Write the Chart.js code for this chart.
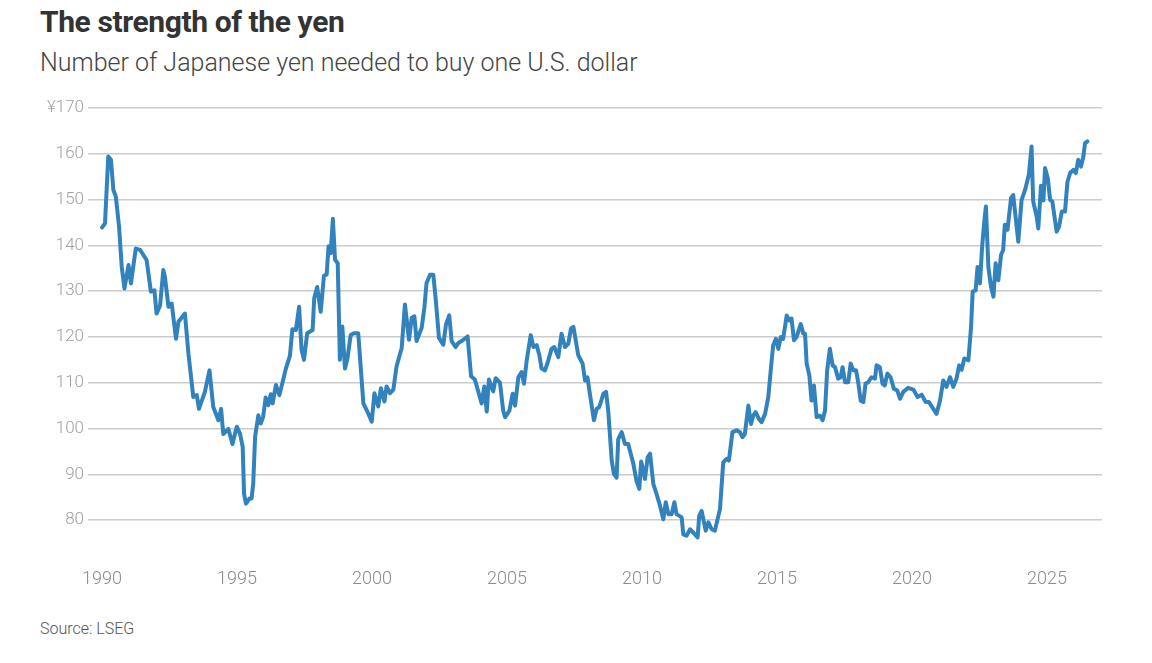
<!DOCTYPE html>
<html>
<head>
<meta charset="utf-8">
<script src="https://cdn.jsdelivr.net/npm/chart.js@4"></script>
<style>
  body { margin: 0; background: #fff; width: 1152px; height: 663px; overflow: hidden; position: relative; font-family: Roboto, "Open Sans", sans-serif; }
  #chart { position: absolute; left: 0; top: 0; }
  .title { position: absolute; left: 40px; top: 4px; font-size: 30px; font-weight: 700; color: #333; letter-spacing: -0.4px; }
  .subtitle { position: absolute; left: 40px; top: 48px; font-size: 25px; font-weight: 300; color: #444; }
  .source { position: absolute; left: 40px; top: 619px; font-size: 16px; font-weight: 300; color: #555; }
</style>
</head>
<body>
<div class="title">The strength of the yen</div>
<div class="subtitle">Number of Japanese yen needed to buy one U.S. dollar</div>
<div class="source">Source: LSEG</div>
<canvas id="chart" width="1152" height="663"></canvas>
<script>
// values (year as decimal, yen per dollar)
const years = [
  1990.00, 1990.11, 1990.23, 1990.33, 1990.42, 1990.51, 1990.63, 1990.73, 1990.83, 1990.98,
  1991.07, 1991.25, 1991.41, 1991.65, 1991.81, 1991.94, 1992.02, 1992.15, 1992.27, 1992.33,
  1992.46, 1992.58, 1992.74, 1992.83, 1993.07, 1993.20, 1993.38, 1993.51, 1993.59, 1993.81,
  1993.98, 1994.12, 1994.31, 1994.41, 1994.49, 1994.68, 1994.83, 1994.99, 1995.11, 1995.21,
  1995.26, 1995.33, 1995.46, 1995.54, 1995.60, 1995.67, 1995.79, 1995.88, 1995.97, 1996.06,
  1996.16, 1996.25, 1996.32, 1996.44, 1996.57, 1996.72, 1996.81, 1996.96, 1997.05, 1997.18,
  1997.30, 1997.39, 1997.48, 1997.60, 1997.80, 1997.86, 1997.97, 1998.10, 1998.22, 1998.32,
  1998.39, 1998.47, 1998.55, 1998.63, 1998.73, 1998.81, 1998.90, 1999.00, 1999.09, 1999.21,
  1999.33, 1999.49, 1999.68, 1999.86, 1999.99, 2000.09, 2000.23, 2000.33, 2000.46, 2000.54,
  2000.67, 2000.79, 2000.91, 2001.10, 2001.22, 2001.37, 2001.47, 2001.57, 2001.65, 2001.84,
  2001.94, 2002.02, 2002.15, 2002.27, 2002.36, 2002.48, 2002.64, 2002.74, 2002.86, 2002.95,
  2003.10, 2003.20, 2003.32, 2003.54, 2003.67, 2003.81, 2004.06, 2004.16, 2004.25, 2004.33,
  2004.49, 2004.58, 2004.74, 2004.86, 2004.93, 2005.09, 2005.21, 2005.30, 2005.42, 2005.54,
  2005.63, 2005.73, 2005.88, 2005.98, 2006.10, 2006.20, 2006.28, 2006.41, 2006.53, 2006.65,
  2006.75, 2006.90, 2007.02, 2007.15, 2007.27, 2007.37, 2007.46, 2007.64, 2007.80, 2007.89,
  2007.98, 2008.07, 2008.22, 2008.32, 2008.42, 2008.57, 2008.67, 2008.75, 2008.88, 2008.96,
  2009.06, 2009.12, 2009.25, 2009.37, 2009.49, 2009.68, 2009.80, 2009.90, 2009.97, 2010.11,
  2010.21, 2010.30, 2010.42, 2010.54, 2010.67, 2010.79, 2010.88, 2010.98, 2011.10, 2011.20,
  2011.28, 2011.47, 2011.53, 2011.65, 2011.78, 2011.90, 2012.06, 2012.12, 2012.21, 2012.36,
  2012.46, 2012.58, 2012.70, 2012.89, 2013.01, 2013.14, 2013.22, 2013.35, 2013.51, 2013.63,
  2013.72, 2013.81, 2013.94, 2014.04, 2014.12, 2014.21, 2014.33, 2014.43, 2014.56, 2014.68,
  2014.78, 2014.86, 2014.96, 2015.05, 2015.14, 2015.23, 2015.36, 2015.46, 2015.54, 2015.63,
  2015.73, 2015.88, 2015.98, 2016.04, 2016.10, 2016.20, 2016.28, 2016.37, 2016.47, 2016.59,
  2016.69, 2016.78, 2016.86, 2016.96, 2017.06, 2017.15, 2017.27, 2017.36, 2017.43, 2017.52,
  2017.64, 2017.73, 2017.83, 2017.93, 2018.01, 2018.10, 2018.20, 2018.28, 2018.38, 2018.50,
  2018.63, 2018.69, 2018.81, 2018.91, 2018.99, 2019.09, 2019.21, 2019.33, 2019.46, 2019.56,
  2019.68, 2019.86, 2020.05, 2020.21, 2020.36, 2020.51, 2020.63, 2020.79, 2020.91, 2021.04,
  2021.16, 2021.28, 2021.41, 2021.53, 2021.65, 2021.75, 2021.84, 2021.94, 2022.09, 2022.19,
  2022.25, 2022.36, 2022.43, 2022.52, 2022.60, 2022.68, 2022.74, 2022.83, 2022.93, 2023.02,
  2023.10, 2023.20, 2023.30, 2023.38, 2023.44, 2023.54, 2023.67, 2023.75, 2023.94, 2024.06,
  2024.19, 2024.33, 2024.43, 2024.49, 2024.62, 2024.68, 2024.78, 2024.87, 2024.93, 2025.03,
  2025.12, 2025.20, 2025.30, 2025.36, 2025.45, 2025.55, 2025.67, 2025.76, 2025.86, 2025.98,
  2026.07, 2026.16, 2026.26, 2026.35, 2026.41, 2026.50
];
const yen = [
  143.9, 144.8, 159.4, 158.7, 152.1, 150.7, 144.1, 135.3, 130.6, 135.7,
  131.7, 139.3, 139.0, 136.8, 129.9, 130.2, 125.1, 126.9, 134.6, 133.1,
  126.6, 127.3, 119.6, 123.3, 125.1, 116.4, 106.9, 107.3, 104.3, 108.0,
  112.7, 104.7, 101.8, 104.3, 98.8, 99.9, 96.6, 100.4, 98.9, 96.0,
  85.8, 83.6, 84.7, 84.7, 88.0, 98.2, 102.9, 101.1, 102.6, 106.8,
  105.1, 107.5, 105.5, 109.5, 107.3, 110.9, 113.1, 115.9, 121.7, 121.5,
  126.6, 117.2, 115.0, 120.8, 121.5, 128.5, 130.9, 125.5, 133.4, 133.6,
  139.8, 138.3, 145.8, 136.9, 136.1, 115.0, 122.3, 113.1, 115.3, 120.4,
  120.8, 120.8, 105.5, 103.3, 101.5, 107.7, 104.8, 108.8, 105.9, 109.2,
  107.7, 108.5, 113.6, 117.6, 127.1, 119.4, 124.2, 124.5, 119.1, 122.0,
  126.4, 131.8, 133.6, 133.6, 128.2, 119.8, 118.3, 122.7, 124.7, 119.1,
  117.8, 118.7, 119.1, 120.1, 111.4, 110.7, 105.5, 109.2, 103.7, 110.7,
  108.1, 111.0, 110.0, 103.9, 102.5, 103.9, 107.6, 105.0, 111.2, 112.3,
  109.8, 114.9, 120.4, 117.8, 118.2, 116.0, 113.1, 112.7, 114.9, 117.4,
  117.8, 115.6, 120.7, 117.8, 118.5, 121.8, 122.2, 116.0, 114.2, 110.5,
  111.2, 107.6, 101.8, 104.3, 104.7, 107.6, 108.0, 103.9, 93.0, 90.1,
  89.3, 97.7, 99.2, 96.6, 96.6, 92.3, 88.5, 86.8, 92.8, 89.0,
  93.7, 94.5, 87.9, 85.7, 83.1, 80.2, 83.9, 81.3, 81.3, 83.9,
  81.3, 80.6, 76.9, 76.6, 78.0, 77.3, 76.2, 80.9, 82.0, 77.7,
  79.5, 78.0, 77.7, 82.4, 92.6, 93.4, 93.0, 99.2, 99.6, 99.2,
  98.1, 98.8, 105.0, 101.0, 102.8, 103.6, 102.1, 101.4, 103.2, 106.9,
  113.4, 118.2, 119.6, 117.4, 120.0, 119.6, 124.7, 123.6, 124.0, 119.3,
  120.0, 122.8, 120.7, 120.7, 114.2, 111.6, 106.1, 109.4, 102.5, 102.8,
  101.8, 103.9, 112.7, 117.4, 113.8, 113.4, 110.9, 111.2, 113.4, 110.1,
  110.1, 114.2, 112.7, 112.7, 110.1, 106.1, 105.8, 109.8, 110.1, 111.2,
  110.9, 113.8, 113.4, 109.8, 109.4, 112.0, 111.2, 108.7, 108.3, 106.5,
  108.0, 108.9, 108.5, 106.9, 107.4, 105.8, 105.8, 104.3, 103.2, 106.1,
  110.5, 109.1, 111.2, 109.1, 110.9, 113.8, 112.8, 115.3, 114.9, 122.2,
  129.9, 130.2, 135.3, 131.7, 139.7, 145.2, 148.5, 135.3, 130.9, 128.8,
  136.1, 132.4, 137.9, 139.0, 144.5, 143.4, 150.3, 151.0, 140.8, 149.9,
  152.1, 155.4, 161.6, 149.6, 146.3, 143.7, 153.0, 149.8, 156.9, 154.7,
  149.9, 149.6, 145.5, 143.0, 144.1, 147.4, 147.4, 153.9, 155.8, 156.5,
  155.8, 158.7, 157.2, 159.4, 162.3, 162.7
];
const xTicks = [1990, 1995, 2000, 2005, 2010, 2015, 2020, 2025];
const yTicks = [80, 90, 100, 110, 120, 130, 140, 150, 160, 170];

const points = years.map((x, i) => ({ x: x, y: yen[i] }));

new Chart(document.getElementById('chart'), {
  type: 'line',
  data: {
    datasets: [{
      data: points,
      borderColor: '#3282be',
      borderWidth: 4,
      pointRadius: 0,
      tension: 0,
      borderJoinStyle: 'round',
      borderCapStyle: 'round'
    }]
  },
  options: {
    responsive: false,
    animation: false,
    layout: { padding: { top: 108, right: 50, left: 0, bottom: 0 } },
    plugins: { legend: { display: false }, tooltip: { enabled: false } },
    scales: {
      x: {
        type: 'linear',
        min: 1989.48,
        max: 2027.04,
        afterBuildTicks: s => { s.ticks = xTicks.map(v => ({ value: v })); },
        afterFit: s => { s.height = 120; },
        grid: { display: false, drawTicks: false },
        border: { display: false },
        ticks: {
          padding: 26,
          color: '#8c8c8c',
          font: { family: 'Roboto', size: 18, weight: 300 },
          callback: v => String(v)
        }
      },
      y: {
        min: 75,
        max: 170,
        afterBuildTicks: s => { s.ticks = yTicks.map(v => ({ value: v })); },
        afterFit: s => { s.width = 88; },
        grid: { color: '#cccccc', lineWidth: 1.5, drawTicks: false },
        border: { display: false },
        ticks: {
          padding: 4,
          color: '#a0a0a0',
          font: { family: 'Roboto', size: 17, weight: 300 },
          callback: v => v === 170 ? '¥170' : String(v)
        }
      }
    }
  }
});
</script>
</body>
</html>
